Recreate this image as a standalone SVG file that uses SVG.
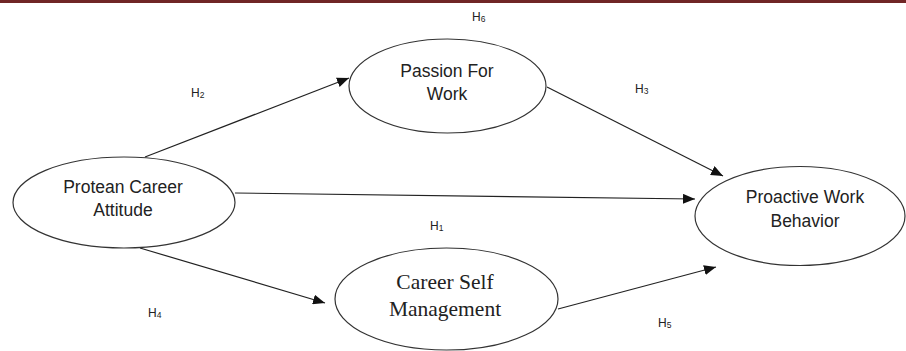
<svg xmlns="http://www.w3.org/2000/svg" width="906" height="351" viewBox="0 0 906 351">
<defs>
<marker id="arr" viewBox="0 0 12 10" refX="12" refY="5" markerWidth="12" markerHeight="10" markerUnits="userSpaceOnUse" orient="auto">
<path d="M0,0 L12,5 L0,10 Z" fill="#111"/>
</marker>
<style>
.node ellipse{fill:#fff;stroke:#333;stroke-width:1.2}
.lbl{font-family:"Liberation Sans",Arial,sans-serif;font-size:17.5px;fill:#222;text-anchor:middle}
.serif{font-family:"Liberation Serif","Times New Roman",serif;font-size:21.5px;fill:#222;text-anchor:middle}
.h{font-family:"Liberation Sans",Arial,sans-serif;font-size:12px;fill:#222}
.sub{font-size:8.5px}
.conn line{stroke:#222;stroke-width:1.2;marker-end:url(#arr)}
</style>
</defs>
<rect width="906" height="351" fill="#fff"/>
<rect x="0" y="0" width="906" height="3" fill="#702626"/>
<g class="conn" id="connectors">
<line x1="145" y1="157" x2="349" y2="78"/>
<line x1="547" y1="87" x2="723" y2="176"/>
<line x1="235" y1="193" x2="695" y2="199"/>
<line x1="140" y1="248" x2="325" y2="303"/>
<line x1="558" y1="309" x2="716" y2="267"/>
</g>
<g id="pca" class="node">
<ellipse cx="124" cy="202.5" rx="111" ry="45.5"/>
<text class="lbl" x="123" y="193">Protean Career</text>
<text class="lbl" x="123" y="216">Attitude</text>
</g>
<g id="pfw" class="node">
<ellipse cx="447.5" cy="86" rx="98.5" ry="47"/>
<text class="lbl" x="447" y="77">Passion For</text>
<text class="lbl" x="447" y="100">Work</text>
</g>
<g id="csm" class="node">
<ellipse cx="446.5" cy="299" rx="111.5" ry="51"/>
<text class="serif" x="445" y="289">Career Self</text>
<text class="serif" x="445" y="316">Management</text>
</g>
<g id="pwb" class="node">
<ellipse cx="800" cy="216" rx="105" ry="49.5"/>
<text class="lbl" x="805" y="203">Proactive Work</text>
<text class="lbl" x="805" y="227">Behavior</text>
</g>
<g id="labels">
<text class="h" x="472" y="21">H<tspan class="sub" dy="1">6</tspan></text>
<text class="h" x="191" y="97">H<tspan class="sub" dy="1">2</tspan></text>
<text class="h" x="635" y="93">H<tspan class="sub" dy="1">3</tspan></text>
<text class="h" x="430" y="230">H<tspan class="sub" dy="1">1</tspan></text>
<text class="h" x="148" y="317">H<tspan class="sub" dy="1">4</tspan></text>
<text class="h" x="658" y="327">H<tspan class="sub" dy="1">5</tspan></text>
</g>
</svg>
